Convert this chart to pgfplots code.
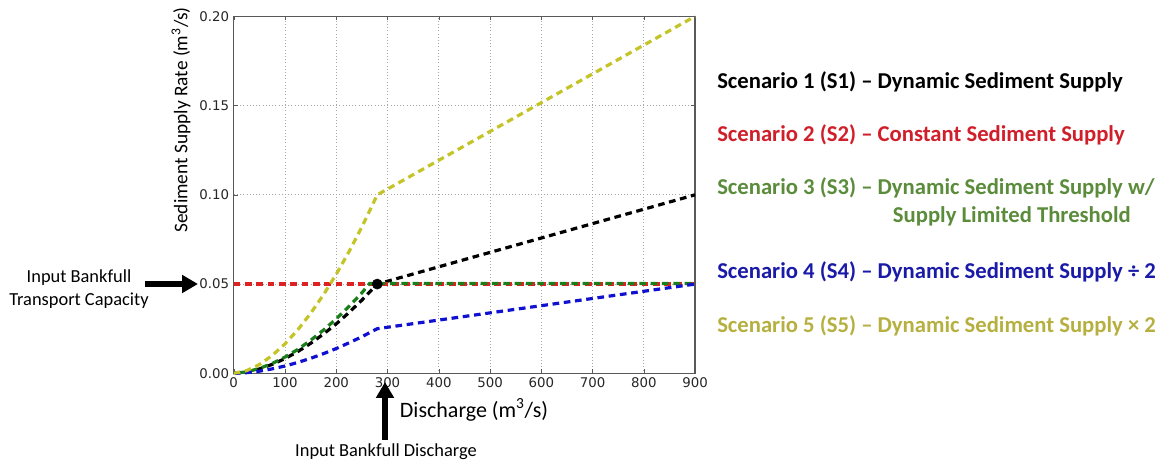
\documentclass[border=0pt]{standalone}
\usepackage{fontspec}
\setmainfont{Carlito}
\newfontfamily\dejavu{DejaVu Sans}
\usepackage{pgfplots}
\pgfplotsset{compat=1.18}
\usetikzlibrary{arrows.meta}
\definecolor{cS2}{HTML}{D01F2A}
\definecolor{cS3}{HTML}{5B8C3B}
\definecolor{cS4}{HTML}{1A1AA8}
\definecolor{cS5}{HTML}{B5B040}
\definecolor{lR}{HTML}{DD2222}
\definecolor{lG}{HTML}{1A7F1A}
\definecolor{lB}{HTML}{1010D0}
\definecolor{lY}{HTML}{C4C428}
\begin{document}
\begin{tikzpicture}
\path[use as bounding box] (0,0) rectangle (873.75pt,-349.5pt);
\begin{axis}[
  at={(175.3pt,-280pt)}, anchor=south west,
  scale only axis, width=346pt, height=267.75pt,
  xmin=0, xmax=900, ymin=0, ymax=0.2,
  xtick={0,100,200,300,400,500,600,700,800,900},
  ytick={0,0.05,0.1,0.15,0.2},
  yticklabel style={/pgf/number format/fixed, /pgf/number format/fixed zerofill, /pgf/number format/precision=2},
  /pgf/number format/assume math mode=true,
  ticklabel style={font=\dejavu\fontsize{10}{11}\selectfont, text=black!85},
  grid=major, grid style={dotted, gray!70, line width=0.5pt},
  axis line style={black!65, line width=1pt},
  tick align=inside, major tick length=3pt, tick style={black!65},
  clip=false,
]
\addplot[black, line width=2.4pt, dash pattern=on 5pt off 3.5pt] coordinates {
(0,0) (25,0.00073) (50,0.00245) (75,0.005) (100,0.00825) (125,0.0122) (150,0.0168) (175,0.022) (200,0.0277) (225,0.0341) (250,0.041) (280,0.05) (900,0.10)};
\addplot[only marks, mark=*, mark size=3.8pt, black] coordinates {(280,0.05)};
\addplot[lR, line width=2.4pt, dash pattern=on 5pt off 3.5pt] coordinates {(0,0.05) (900,0.05)};
\addplot[lG, line width=2.4pt, dash pattern=on 5pt off 3.5pt, dash phase=4pt] coordinates {
(0,0) (25,0.0008) (50,0.0027) (75,0.0055) (100,0.0091) (125,0.0134) (150,0.0185) (175,0.0242) (200,0.0305) (225,0.0375) (250,0.0451) (265,0.0503) (900,0.0503)};
\addplot[lB, line width=2.4pt, dash pattern=on 5pt off 3.5pt] coordinates {
(0,0) (25,0.00037) (50,0.0012) (75,0.0025) (100,0.0041) (125,0.0061) (150,0.0084) (175,0.011) (200,0.0139) (225,0.0171) (250,0.0205) (280,0.025) (900,0.05)};
\addplot[lY, line width=2.4pt, dash pattern=on 5pt off 3.5pt] coordinates {
(0,0) (25,0.0015) (50,0.0049) (75,0.01) (100,0.0165) (125,0.0244) (150,0.0336) (175,0.044) (200,0.0555) (225,0.0682) (250,0.082) (280,0.1) (900,0.2)};
\end{axis}
\begin{scope}[x=0.75pt,y=-0.75pt]
\node[rotate=90, font=\fontsize{14.5}{17}\selectfont] at (181,120) {Sediment Supply Rate (m\textsuperscript{3}/s)};
\node[font=\fontsize{16.5}{19}\selectfont] at (474,410) {Discharge (m\textsuperscript{3}/s)};
\node[align=center, font=\fontsize{13.8}{17}\selectfont] at (79,289) {Input Bankfull\\Transport Capacity};
\node[font=\fontsize{13.8}{16}\selectfont] at (386,452) {Input Bankfull Discharge};
\draw[line width=4pt, -{Triangle[length=12pt,width=13pt]}] (145,284) -- (198,284);
\draw[line width=4pt, -{Triangle[length=12pt,width=13pt]}] (385,440) -- (385,382);
\begin{scope}[every node/.style={anchor=west, font=\bfseries\fontsize{17}{20}\selectfont, inner sep=0pt}]
\node[text=black] at (717,82) {Scenario 1 (S1) – Dynamic Sediment Supply};
\node[text=cS2] at (717,135) {Scenario 2 (S2) – Constant Sediment Supply};
\node[text=cS3] at (717,188) {Scenario 3 (S3) – Dynamic Sediment Supply w/};
\node[text=cS3, anchor=east] at (1131,216) {Supply Limited Threshold};
\node[text=cS4] at (717,272) {Scenario 4 (S4) – Dynamic Sediment Supply ÷ 2};
\node[text=cS5] at (717,326) {Scenario 5 (S5) – Dynamic Sediment Supply × 2};
\end{scope}
\end{scope}
\end{tikzpicture}
\end{document}
